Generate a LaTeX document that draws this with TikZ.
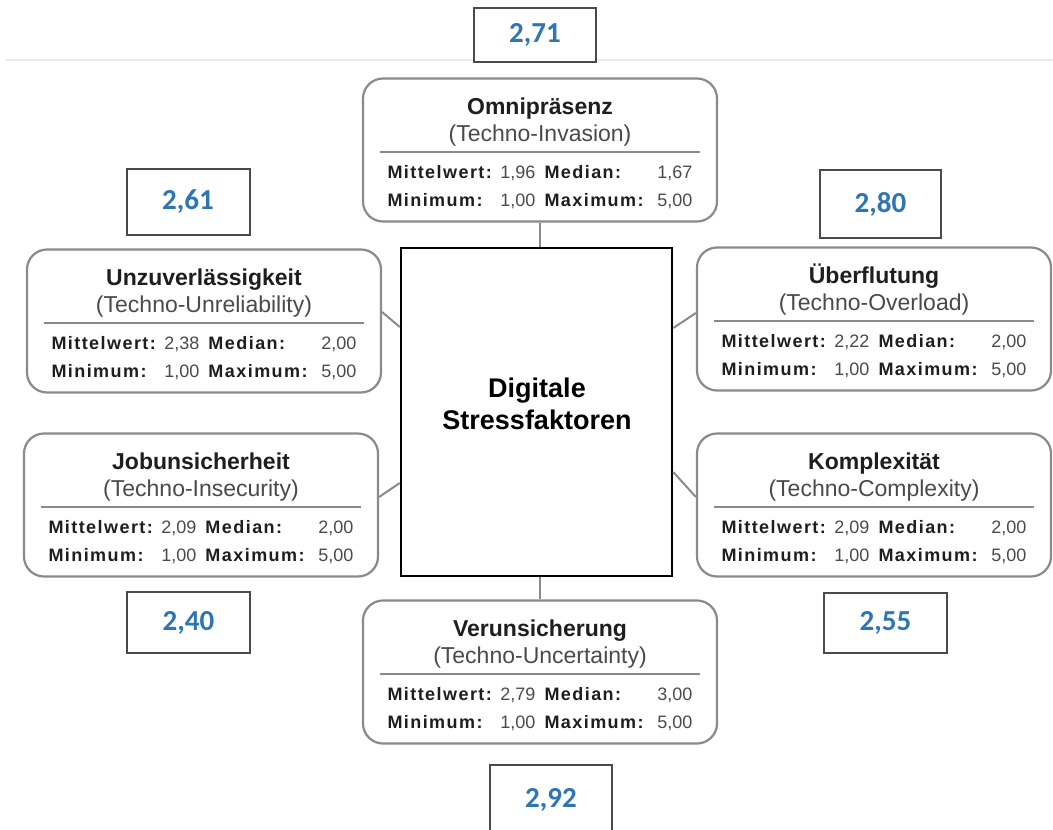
\documentclass[tikz,border=0pt]{standalone}
\usepackage{fontspec}
\setmainfont{Liberation Sans}
\newfontfamily\scorefont{Carlito}
\usepgflibrary{arrows.meta}
\usepackage{xcolor}
\definecolor{scoreblue}{HTML}{2E75B6}
\definecolor{boxgray}{HTML}{8A8A8A}
\definecolor{txtdark}{HTML}{1E1E1E}
\definecolor{txtgray}{HTML}{4A4A4A}

\newcommand{\statrow}[4]{%
  \makebox[148pt][s]{\textcolor{txtdark}{\bfseries\addfontfeature{LetterSpace=8}#1}\hfill #2}%
  \hspace{9pt}%
  \makebox[148pt][s]{\textcolor{txtdark}{\bfseries\addfontfeature{LetterSpace=8}#3}\hfill #4}}

\begin{document}
\begin{tikzpicture}[x=1pt,y=-1pt,>=Stealth,
  factor/.style={draw=boxgray,line width=2.2pt,rounded corners=20pt,fill=white,
    minimum width=354pt,minimum height=143pt,inner sep=0pt},
  ftitle/.style={font=\fontsize{23}{25}\selectfont\bfseries,text=txtdark,anchor=base,inner sep=0pt},
  fsub/.style={font=\fontsize{23}{25}\selectfont,text=txtgray,anchor=base,inner sep=0pt},
  frow/.style={font=\fontsize{18}{20}\selectfont,text=txtgray,anchor=base,inner sep=0pt},
  hub/.style={draw=black,line width=2.5pt,fill=white,minimum width=271pt,minimum height=328pt,inner sep=0pt},
  hubtext/.style={font=\fontsize{27}{32}\selectfont\bfseries,align=center,inner sep=0pt},
  score/.style={draw=txtgray,line width=2pt,fill=white,minimum width=122pt,minimum height=62pt,
    font=\scorefont\fontsize{29}{30}\selectfont\bfseries,text=scoreblue},
  link/.style={draw=boxgray,line width=2pt}]
\useasboundingbox (0,0) rectangle (1053,830);
\clip (0,0) rectangle (1053,830);

\draw[black!8,line width=1.5pt] (6,60) -- (1053,60);

\node[hub] (hub) at (536.5,412) {};
\node[hubtext] (hubtext) at (537,404) {Digitale\\Stressfaktoren};

\foreach \n/\x/\y/\ttl/\sbt/\mw/\md/\mn/\mx in {
  omni/540/150/Omnipräsenz/Techno-Invasion/{1,96}/{1,67}/{1,00}/{5,00},
  unzuv/204/321/Unzuverlässigkeit/Techno-Unreliability/{2,38}/{2,00}/{1,00}/{5,00},
  ueber/874/319/Überflutung/Techno-Overload/{2,22}/{2,00}/{1,00}/{5,00},
  jobun/201/505/Jobunsicherheit/Techno-Insecurity/{2,09}/{2,00}/{1,00}/{5,00},
  komplex/874/505/Komplexität/Techno-Complexity/{2,09}/{2,00}/{1,00}/{5,00},
  verun/540/672/Verunsicherung/Techno-Uncertainty/{2,79}/{3,00}/{1,00}/{5,00}}
{
  \node[factor] (\n) at (\x,\y) {};
  \node[ftitle] (\n-t) at ([yshift=35.5pt]\n.center) {\ttl};
  \node[fsub] (\n-s) at ([yshift=8.5pt]\n.center) {(\sbt)};
  \draw[boxgray,line width=1.8pt] ([xshift=-160pt,yshift=-2pt]\n.center) -- ([xshift=160pt,yshift=-2pt]\n.center);
  \node[frow] (\n-a) at ([yshift=-28pt]\n.center) {\statrow{Mittelwert:}{\mw}{Median:}{\md}};
  \node[frow] (\n-b) at ([yshift=-56pt]\n.center) {\statrow{Minimum:}{\mn}{Maximum:}{\mx}};
}

\draw[link] (omni.south) -- (omni.south |- hub.north);
\draw[link] (verun.north) -- (verun.north |- hub.south);
\draw[link] ([yshift=9pt]unzuv.east) -- ([yshift=85pt]hub.west);
\draw[link] ([yshift=8pt]jobun.east) -- ([yshift=-71pt]hub.west);
\draw[link] ([yshift=6pt]ueber.west) -- ([yshift=84pt]hub.east);
\draw[link] ([yshift=8pt]komplex.west) -- ([yshift=-60pt]hub.east);

\node[score,minimum height=54pt] (s-omni) at (535,35) {2,71};
\node[score,minimum width=123pt,minimum height=66pt] (s-unzuv) at (188,202) {2,61};
\node[score,minimum width=121pt,minimum height=68pt] (s-ueber) at (880.5,204) {2,80};
\node[score,minimum width=123pt,minimum height=61pt] (s-jobun) at (188.5,622.5) {2,40};
\node[score,minimum width=123pt,minimum height=60pt] (s-komplex) at (885.5,623) {2,55};
\node[score,minimum height=70pt] (s-verun) at (551,800) {2,92};
\end{tikzpicture}
\end{document}
